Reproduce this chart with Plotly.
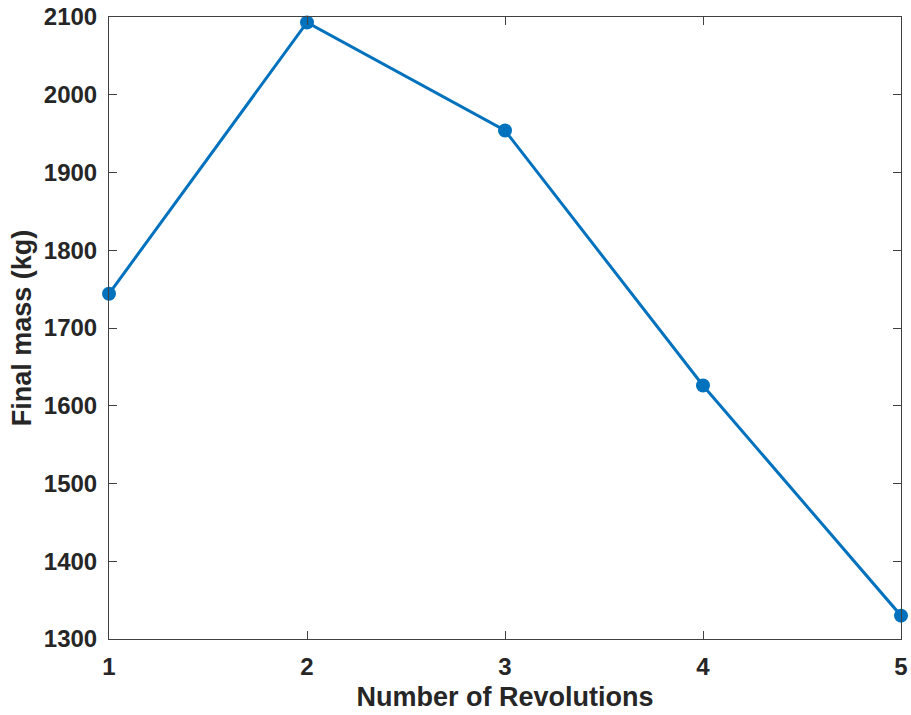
import plotly.graph_objects as go

revolutions = [1, 2, 3, 4, 5]
final_mass = [1744, 2093, 1954, 1626, 1330]
x_ticks = [1, 2, 3, 4, 5]
y_ticks = [1300, 1400, 1500, 1600, 1700, 1800, 1900, 2000, 2100]

BLUE = "#0072BD"
AX = "#262626"
FONT = "Liberation Sans"

fig = go.Figure()
fig.add_trace(go.Scatter(
    x=revolutions, y=final_mass, mode="lines+markers",
    line=dict(color=BLUE, width=3),
    marker=dict(color=BLUE, size=14),
    cliponaxis=False, showlegend=False,
))

axis_common = dict(
    showline=True, linecolor="#404040", linewidth=1, mirror="ticks",
    ticks="inside", ticklen=8, tickcolor="#404040", tickwidth=1,
    showgrid=False, zeroline=False, automargin=False,
    tickfont=dict(family=FONT, size=24, color=AX, weight="bold"),
)

fig.update_layout(
    width=911, height=715,
    margin=dict(l=109, r=10, t=17, b=76),
    paper_bgcolor="white", plot_bgcolor="white",
    xaxis=dict(range=[1, 5], tickvals=x_ticks, ticklabelstandoff=6,
               title=dict(text="Number of Revolutions", standoff=8,
                          font=dict(family=FONT, size=27, color=AX, weight="bold")),
               **axis_common),
    yaxis=dict(range=[1300, 2100], tickvals=y_ticks, ticklabelstandoff=6,
               title=dict(text="Final mass (kg)", standoff=4,
                          font=dict(family=FONT, size=27, color=AX, weight="bold")),
               **axis_common),
)

fig.write_html("out.html")
